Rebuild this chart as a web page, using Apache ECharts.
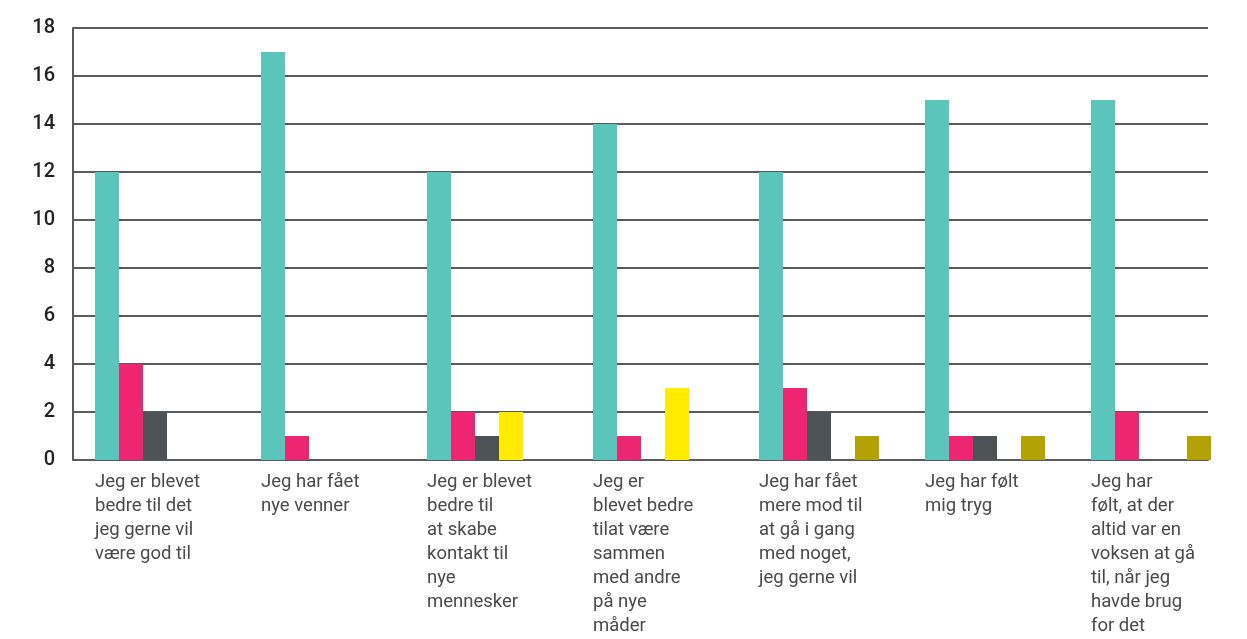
<!DOCTYPE html>
<html>
<head>
<meta charset="utf-8">
<script src="https://cdn.jsdelivr.net/npm/echarts@6/dist/echarts.min.js"></script>
<style>
html,body{margin:0;padding:0;background:#fff;}
#chart{width:1247px;height:639px;}
</style>
</head>
<body>
<div id="chart"></div>
<script>
const categories = [
  "Jeg er blevet\nbedre til det\njeg gerne vil\nvære god til",
  "Jeg har fået\nnye venner",
  "Jeg er blevet\nbedre til\nat skabe\nkontakt til\nnye\nmennesker",
  "Jeg er\nblevet bedre\ntilat være\nsammen\nmed andre\npå nye\nmåder",
  "Jeg har fået\nmere mod til\nat gå i gang\nmed noget,\njeg gerne vil",
  "Jeg har følt\nmig tryg",
  "Jeg har\nfølt, at der\naltid var en\nvoksen at gå\ntil, når jeg\nhavde brug\nfor det"
];
const seriesTeal   = [12, 17, 12, 14, 12, 15, 15];
const seriesPink   = [4, 1, 2, 1, 3, 1, 2];
const seriesGray   = [2, 0, 1, 0, 2, 1, 0];
const seriesYellow = [0, 0, 2, 3, 0, 0, 0];
const seriesOlive  = [0, 0, 0, 0, 1, 1, 1];
const yTicks = [0, 2, 4, 6, 8, 10, 12, 14, 16, 18];

const colors = ['#5BC5BC', '#EE2570', '#4D5256', '#FFEC00', '#B3A206'];
const lineColor = '#575B5F';

const chart = echarts.init(document.getElementById('chart'), null, {renderer: 'canvas'});
const mk = (data, i) => ({
  type: 'bar', data: data, xAxisIndex: 1, yAxisIndex: 1,
  barWidth: 24, barGap: '0%', itemStyle: {color: colors[i]}, z: 3
});
chart.setOption({
  animation: false,
  grid: [
    {left: 73, top: 28, width: 1135, height: 432, outerBoundsMode: 'none'},
    {left: 72, top: 28, width: 1162, height: 432, outerBoundsMode: 'none'}
  ],
  xAxis: [
    {type: 'category', gridIndex: 0, data: categories, boundaryGap: true,
     axisLine: {show: true, lineStyle: {color: lineColor, width: 2}},
     axisTick: {show: false}, axisLabel: {show: false}},
    {type: 'category', gridIndex: 1, data: categories,
     axisLine: {show: false}, axisTick: {show: false},
     axisLabel: {
       margin: 10, interval: 0,
       formatter: function (v) {
         return v.split('\n').map(s => '{a|' + s + '}').join('\n');
       },
       rich: {a: {width: 120, align: 'left', fontFamily: 'Roboto', fontSize: 18.5, color: '#4a4a4a', lineHeight: 24}}
     }}
  ],
  yAxis: [
    {type: 'value', gridIndex: 0, min: 0, max: 18, interval: 2,
     axisLine: {show: true, lineStyle: {color: lineColor, width: 2}},
     axisTick: {show: false},
     splitLine: {show: true, lineStyle: {color: lineColor, width: 2}},
     axisLabel: {margin: 18, fontFamily: 'Roboto', fontSize: 20, fontWeight: 500, color: '#222',
       formatter: v => yTicks.includes(v) ? String(v) : ''}},
    {type: 'value', gridIndex: 1, min: 0, max: 18, interval: 2, show: false}
  ],
  series: [
    mk(seriesTeal, 0), mk(seriesPink, 1), mk(seriesGray, 2), mk(seriesYellow, 3), mk(seriesOlive, 4)
  ]
});
</script>
</body>
</html>
